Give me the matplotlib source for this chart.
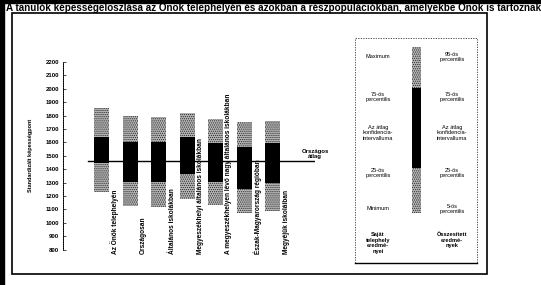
import matplotlib
matplotlib.use("Agg")
import matplotlib.pyplot as plt
from matplotlib.patches import Rectangle
from matplotlib.transforms import blended_transform_factory

plt.rcParams['font.family'] = ['Liberation Sans', 'DejaVu Sans']
plt.rcParams['hatch.linewidth'] = 0.6

title = ("A tanulók képességeloszlása az Önök telephelyén és azokban a "
         "részpopulációkban, amelyekbe Önök is tartoznak")
categories = ["Az Önök telephelyén", "Országosan", "Általános iskolákban",
              "Megyeszékhelyi általános iskolákban",
              "A megyeszékhelyen lévő nagy általános iskolákban",
              "Észak-Magyarország régióban", "Megyéjük iskoláiban"]
p_high = [1857, 1797, 1790, 1819, 1775, 1752, 1760]
q75 = [1640, 1603, 1603, 1640, 1596, 1566, 1596]
q25 = [1446, 1304, 1304, 1364, 1304, 1252, 1297]
p_low = [1230, 1125, 1118, 1178, 1133, 1073, 1088]
national_avg = 1461
yticks = list(range(800, 2201, 100))

W, H = 541, 285
fig = plt.figure(figsize=(W / 100, H / 100), dpi=100)

def fx(x):
    return x / W

def fy(y):
    return 1 - y / H

GRAY_FC = '#b8b8b8'
GRAY_EC = '#2a2a2a'
HATCH = '........'

# frame decorations
fig.patches.append(Rectangle((0, fy(3)), 1, fy(0) - fy(3), transform=fig.transFigure,
                             color='black', zorder=0))
fig.patches.append(Rectangle((0, 0), fx(4), 1, transform=fig.transFigure,
                             color='black', zorder=0))
fig.patches.append(Rectangle((fx(12), fy(274)), fx(487) - fx(12), fy(12.5) - fy(274),
                             transform=fig.transFigure, fill=False, ec='black', lw=1.2))
fig.text(fx(6), fy(7.3), title, fontsize=7.1, fontweight='bold', ha='left', va='center')

# main axes
ax_left, ax_right = 63, 315
ax_top, ax_bot = 62, 249.6
ax = fig.add_axes([fx(ax_left), fy(ax_bot), fx(ax_right) - fx(ax_left), fy(ax_top) - fy(ax_bot)])
ax.set_facecolor('none')
ax.set_ylim(800, 2200)
spacing = 28.5
first = 101.5
ax.set_xlim((ax_left - first) / spacing, (ax_right - first) / spacing)
x = list(range(len(categories)))
bw = 15 / spacing
lower_h = [a - b for a, b in zip(q25, p_low)]
mid_h = [a - b for a, b in zip(q75, q25)]
upper_h = [a - b for a, b in zip(p_high, q75)]
ax.bar(x, lower_h, bottom=p_low, width=bw, facecolor=GRAY_FC, edgecolor=GRAY_EC,
       hatch=HATCH, lw=0, zorder=2)
ax.bar(x, mid_h, bottom=q25, width=bw, color='black', lw=0, zorder=2)
ax.bar(x, upper_h, bottom=q75, width=bw, facecolor=GRAY_FC, edgecolor=GRAY_EC,
       hatch=HATCH, lw=0, zorder=2)
ax.axhline(national_avg, xmin=(88 - ax_left) / (ax_right - ax_left), xmax=1,
           color='black', lw=1.0, zorder=1)

for s in ['top', 'right', 'bottom']:
    ax.spines[s].set_visible(False)
ax.spines['left'].set_linewidth(0.6)
ax.spines['left'].set_linestyle((0, (2, 0.6)))
ax.set_xticks([])
ax.set_yticks(yticks)
ax.set_yticklabels([str(t) for t in yticks], fontsize=4.3, fontweight='bold')
ax.tick_params(axis='y', direction='in', length=2, width=0.5, pad=3)
ax.set_ylabel("Standardizált képességpont", fontsize=4, fontweight='bold', labelpad=9)

trans = blended_transform_factory(ax.transData, ax.transAxes)
lab_y = (ax_bot - 254) / (ax_bot - ax_top)
for i, c in enumerate(categories):
    ax.text(i + 13.5 / spacing, lab_y, c, rotation=90, ha='center', va='bottom',
            fontsize=4.7, fontweight='bold', transform=trans, clip_on=False)

ax.text(1.0, national_avg + 15, "Országos\nátlag",
        transform=blended_transform_factory(ax.transAxes, ax.transData),
        fontsize=4.3, fontweight='bold', ha='center', va='bottom', linespacing=1.1,
        clip_on=False)

# legend box
fig.patches.append(Rectangle((fx(355), fy(263)), fx(477) - fx(355), fy(38) - fy(263),
                             transform=fig.transFigure, fill=False, ec='#333333', lw=0.6,
                             ls=(0, (1.5, 1.5))))
fig.lines.append(plt.Line2D([fx(355), fx(477)], [fy(263), fy(263)],
                            transform=fig.transFigure, color='black', lw=1.0))
leg_x0, leg_x1 = 412, 421
for top, bot, kind in [(47, 88, 'g'), (88, 168, 'b'), (168, 213, 'g')]:
    if kind == 'g':
        r = Rectangle((fx(leg_x0), fy(bot)), fx(leg_x1) - fx(leg_x0), fy(top) - fy(bot),
                      transform=fig.transFigure, facecolor=GRAY_FC, edgecolor=GRAY_EC,
                      hatch=HATCH, lw=0)
    else:
        r = Rectangle((fx(leg_x0), fy(bot)), fx(leg_x1) - fx(leg_x0), fy(top) - fy(bot),
                      transform=fig.transFigure, color='black', lw=0)
    fig.patches.append(r)

left_items = [(57, "Maximum"), (97, "75-ös\npercentilis"),
              (133, "Az átlag\nkonfidencia-\nintervalluma"), (173, "25-ös\npercentilis"),
              (209, "Minimum")]
right_items = [(57, "95-ös\npercentilis"), (97, "75-ös\npercentilis"),
               (133, "Az átlag\nkonfidencia-\nintervalluma"), (173, "25-ös\npercentilis"),
               (209, "5-ös\npercentilis")]
for yy, t in left_items:
    fig.text(fx(378), fy(yy), t, fontsize=4.1, ha='center', va='center', linespacing=1.2)
for yy, t in right_items:
    fig.text(fx(452), fy(yy), t, fontsize=4.1, ha='center', va='center', linespacing=1.2)
fig.text(fx(378), fy(243), "Saját\ntelephely\neredmé-\nnyei", fontsize=4.1, fontweight='bold',
         ha='center', va='center', linespacing=1.2)
fig.text(fx(452), fy(240), "Összesített\neredmé-\nnyek", fontsize=4.1, fontweight='bold',
         ha='center', va='center', linespacing=1.2)

fig.savefig("out.png", dpi=100)
